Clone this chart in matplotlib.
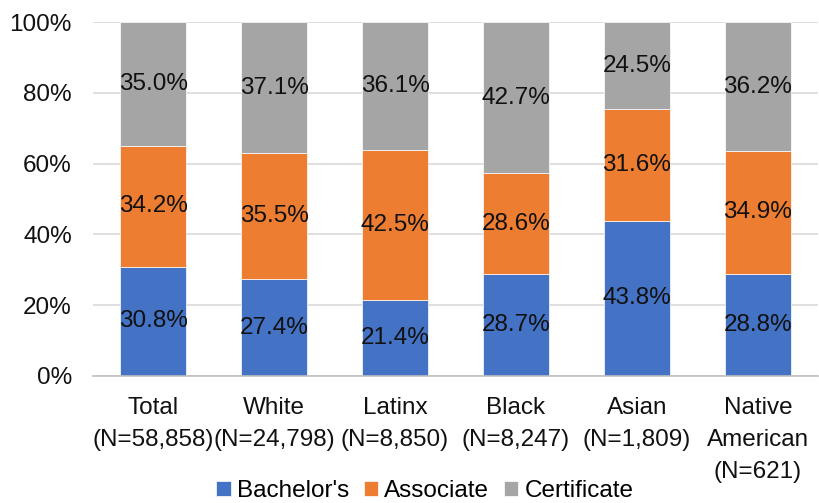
import numpy as np
import matplotlib
matplotlib.use("Agg")
import matplotlib.pyplot as plt
from matplotlib.ticker import PercentFormatter

plt.rcParams['font.family'] = ['Liberation Sans', 'DejaVu Sans']

# data
groups = ["Total\n(N=58,858)", "White\n(N=24,798)", "Latinx\n(N=8,850)",
          "Black\n(N=8,247)", "Asian\n(N=1,809)", "Native\nAmerican\n(N=621)"]
bachelors = [30.8, 27.4, 21.4, 28.7, 43.8, 28.8]
associate = [34.2, 35.5, 42.5, 28.6, 31.6, 34.9]
certificate = [35.0, 37.1, 36.1, 42.7, 24.5, 36.2]

series = [("Bachelor's", bachelors, "#4472C4"),
          ("Associate", associate, "#ED7D31"),
          ("Certificate", certificate, "#A5A5A5")]

FS = 17.5

fig = plt.figure(figsize=(8.2, 5.03), dpi=100)
ax = fig.add_axes([0.113, 0.2525, 0.885, 0.7035])

x = np.arange(len(groups))
bottom = np.zeros(len(groups))
for name, vals, col in series:
    vals = np.array(vals)
    ax.bar(x, vals, 0.55, bottom=bottom, color=col, label=name,
           edgecolor="white", linewidth=0.5, zorder=2)
    for xi, b, v in zip(x, bottom, vals):
        ax.text(xi, b + v / 2, f"{v:.1f}%", ha="center", va="center",
                fontsize=FS, color="#111111", zorder=3)
    bottom += vals

ax.set_xlim(-0.5, len(groups) - 0.5)
ax.set_ylim(0, 100)
ax.set_yticks(np.arange(0, 101, 20))
ax.yaxis.set_major_formatter(PercentFormatter(decimals=0))
ax.set_xticks(x)
ax.set_xticklabels(groups, fontsize=FS, linespacing=1.6)
ax.tick_params(axis="y", length=0, labelsize=FS, pad=15, colors="#111111")
ax.tick_params(axis="x", length=0, pad=15, colors="#111111")
ax.yaxis.grid(True, color="#D9D9D9", linewidth=1.2, zorder=0)
ax.set_axisbelow(True)
for s in ["top", "right", "left"]:
    ax.spines[s].set_visible(False)
ax.spines["bottom"].set_color("#BFBFBF")
ax.spines["bottom"].set_linewidth(1.2)

fig.legend(loc="center", bbox_to_anchor=(0.518, 0.024), ncol=3,
           frameon=False, fontsize=FS, handlelength=0.6, handleheight=0.6,
           handletextpad=0.25, columnspacing=0.6, borderpad=0)

fig.savefig("out.png", dpi=100)
